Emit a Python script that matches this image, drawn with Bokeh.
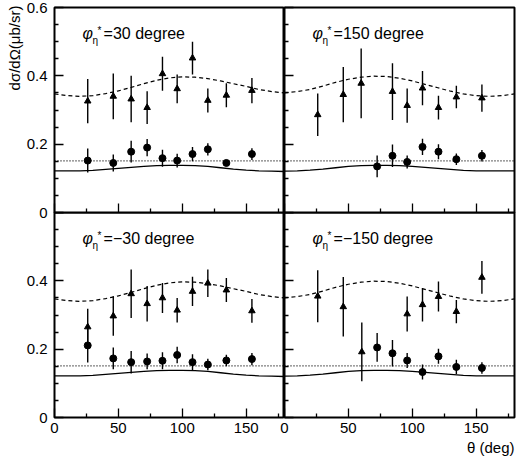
from bokeh.plotting import figure
from bokeh.layouts import row, column
from bokeh.models import FixedTicker, Label, Title, CustomLabelingPolicy
from bokeh.embed import file_html
from bokeh.resources import INLINE

# ---------------- data ----------------
theta_curve = [0, 10, 20, 30, 40, 50, 60, 70, 80, 90, 100, 110, 120, 130, 140, 150, 160, 170, 180]

# model curves for phi = +-30 degree
dash_30 = [0.347, 0.342, 0.340, 0.342, 0.348, 0.356, 0.366, 0.377, 0.387, 0.394, 0.397,
           0.396, 0.392, 0.385, 0.377, 0.369, 0.360, 0.354, 0.350]
solid_30 = [0.122, 0.122, 0.122, 0.123, 0.126, 0.129, 0.132, 0.135, 0.137, 0.138, 0.138,
            0.137, 0.135, 0.131, 0.127, 0.124, 0.122, 0.121, 0.120]
# model curves for phi = +-150 degree
dash_150 = [0.350, 0.354, 0.360, 0.370, 0.381, 0.390, 0.396, 0.399, 0.398, 0.393, 0.385,
            0.375, 0.365, 0.355, 0.347, 0.342, 0.340, 0.342, 0.347]
solid_150 = [0.121, 0.122, 0.124, 0.127, 0.131, 0.135, 0.137, 0.138, 0.138, 0.137, 0.135,
             0.132, 0.129, 0.126, 0.123, 0.122, 0.122, 0.122, 0.122]
dotted_x = [0, 180]
dotted_y = [0.151, 0.151]

# phi = 30 degree
p30_tri_x = [26, 46, 60, 72.5, 84.5, 96, 108, 120, 134.5, 154.5]
p30_tri_y = [0.326, 0.340, 0.332, 0.307, 0.406, 0.362, 0.452, 0.328, 0.343, 0.357]
p30_tri_e = [0.065, 0.067, 0.068, 0.048, 0.050, 0.042, 0.048, 0.035, 0.035, 0.037]
p30_cir_x = [26, 46, 60, 72.5, 84.5, 96, 108, 120, 134.5, 154.5]
p30_cir_y = [0.152, 0.145, 0.178, 0.190, 0.159, 0.152, 0.171, 0.185, 0.145, 0.171]
p30_cir_e = [0.035, 0.025, 0.032, 0.025, 0.025, 0.020, 0.021, 0.018, 0.008, 0.017]

# phi = 150 degree
p150_tri_x = [26, 46, 60, 84.5, 96, 108, 120.5, 134.5, 154.5]
p150_tri_y = [0.286, 0.345, 0.378, 0.354, 0.313, 0.364, 0.307, 0.338, 0.335]
p150_tri_e = [0.062, 0.081, 0.102, 0.083, 0.050, 0.050, 0.035, 0.033, 0.040]
p150_cir_x = [72.5, 84.5, 96, 108, 120.5, 134.5, 154.5]
p150_cir_y = [0.135, 0.166, 0.148, 0.192, 0.178, 0.156, 0.166]
p150_cir_e = [0.032, 0.033, 0.019, 0.024, 0.022, 0.017, 0.017]

# phi = -30 degree
m30_tri_x = [26, 46, 60, 72.5, 84.5, 96, 108, 120, 134.5, 154.5]
m30_tri_y = [0.265, 0.297, 0.362, 0.333, 0.350, 0.314, 0.369, 0.393, 0.373, 0.312]
m30_tri_e = [0.053, 0.058, 0.071, 0.052, 0.044, 0.036, 0.043, 0.040, 0.035, 0.035]
m30_cir_x = [26, 46, 60, 72.5, 84.5, 96, 108, 120, 134.5, 154.5]
m30_cir_y = [0.211, 0.173, 0.162, 0.164, 0.166, 0.183, 0.162, 0.155, 0.167, 0.171]
m30_cir_e = [0.050, 0.032, 0.033, 0.023, 0.025, 0.024, 0.023, 0.017, 0.017, 0.018]

# phi = -150 degree
m150_tri_x = [26, 46, 60.5, 96, 108, 120.5, 134.5, 154.5]
m150_tri_y = [0.355, 0.324, 0.192, 0.303, 0.330, 0.354, 0.310, 0.410]
m150_tri_e = [0.076, 0.087, 0.086, 0.051, 0.049, 0.044, 0.034, 0.048]
m150_cir_x = [72.5, 84.5, 96, 108, 120.5, 134.5, 154.5]
m150_cir_y = [0.205, 0.188, 0.167, 0.133, 0.179, 0.148, 0.145]
m150_cir_e = [0.042, 0.039, 0.022, 0.022, 0.022, 0.021, 0.017]

x_ticks = [0, 50, 100, 150]
x_minor = [25, 75, 125, 175]
y_ticks = [0, 0.2, 0.4, 0.6]
y_minor = [0.05, 0.1, 0.15, 0.25, 0.3, 0.35, 0.45, 0.5, 0.55]
y_labels = {0: "0", 0.2: "0.2", 0.4: "0.4", 0.6: "0.6"}

FONT = "Liberation Sans"
FRAME_W = 230
FRAME_H = 205

HIDE_ALL = "for (const i of indices) indices.unset(i)"


def panel(phi_label, tri, cir, dash, solid, left_labels, bottom_labels, top_row, left_col):
    mb_left = 54 if left_col else 8
    mb_right = 0 if left_col else 2
    mb_top = 7 if top_row else 0
    mb_bottom = 8 if top_row else 42
    p = figure(width=mb_left + FRAME_W + mb_right, height=mb_top + FRAME_H + mb_bottom,
               x_range=(0, 180), y_range=(0, 0.6),
               output_backend="svg", toolbar_location=None,
               min_border_left=mb_left, min_border_right=mb_right,
               min_border_top=mb_top, min_border_bottom=mb_bottom,
               background_fill_color=None, border_fill_color=None)
    p.grid.visible = False
    p.outline_line_color = "black"
    p.outline_line_width = 2

    for ax in (p.xaxis[0], p.yaxis[0]):
        ax.axis_line_color = None
        ax.major_tick_out = 0
        ax.minor_tick_out = 0
        ax.major_tick_line_color = "black"
        ax.minor_tick_line_color = "black"
        ax.major_tick_line_width = 1.3
        ax.minor_tick_line_width = 1.3
        ax.major_label_text_font = FONT
        ax.major_label_text_color = "black"
    p.xaxis.ticker = FixedTicker(ticks=x_ticks, minor_ticks=x_minor)
    p.yaxis.ticker = FixedTicker(ticks=y_ticks, minor_ticks=y_minor)
    p.xaxis.major_tick_in = 9
    p.xaxis.minor_tick_in = 4
    p.yaxis.major_tick_in = 9
    p.yaxis.minor_tick_in = 4

    if left_labels:
        overrides = dict(y_labels)
        if not top_row:
            overrides[0.6] = ""
        p.yaxis.major_label_overrides = overrides
        p.yaxis.major_label_text_font_size = "15px"
        p.yaxis.major_label_standoff = 7
    else:
        p.yaxis.major_label_text_font_size = "0px"
        p.yaxis.major_label_standoff = 0
        p.yaxis.major_label_policy = CustomLabelingPolicy(code=HIDE_ALL)
    if bottom_labels:
        p.xaxis.major_label_text_font_size = "15px"
        p.xaxis.major_label_standoff = 5
    else:
        p.xaxis.major_label_text_font_size = "0px"
        p.xaxis.major_label_standoff = 0
        p.xaxis.major_label_policy = CustomLabelingPolicy(code=HIDE_ALL)

    # model curves
    p.line(theta_curve, dash, line_color="black", line_width=1.2, line_dash="4 3")
    p.line(theta_curve, solid, line_color="black", line_width=1.3)
    p.line(dotted_x, dotted_y, line_color="black", line_width=1.2, line_dash="1 2")

    # data with error bars
    for (xs, ys, es), marker, size in ((tri, "triangle", 6.5), (cir, "circle", 7)):
        lo = [y - e for y, e in zip(ys, es)]
        hi = [y + e for y, e in zip(ys, es)]
        p.segment(x0=xs, y0=lo, x1=xs, y1=hi, line_color="black", line_width=1.4)
        p.scatter(xs, ys, marker=marker, size=size, fill_color="black", line_color="black")

    # panel label  phi_eta^* = ...
    p.add_layout(Label(x=22, y=0.5, text="φ", text_font=FONT, text_font_size="16px",
                       text_font_style="italic", text_color="black"))
    p.add_layout(Label(x=22, y=0.488, x_offset=10, text="η", text_font=FONT,
                       text_font_size="10px", text_color="black"))
    p.add_layout(Label(x=22, y=0.517, x_offset=15, text="*", text_font=FONT,
                       text_font_size="10px", text_color="black"))
    p.add_layout(Label(x=22, y=0.5, x_offset=21, text=phi_label, text_font=FONT,
                       text_font_size="16px", text_color="black"))
    return p


tl = panel("=30 degree", (p30_tri_x, p30_tri_y, p30_tri_e), (p30_cir_x, p30_cir_y, p30_cir_e),
           dash_30, solid_30, True, False, True, True)
tr = panel("=150 degree", (p150_tri_x, p150_tri_y, p150_tri_e), (p150_cir_x, p150_cir_y, p150_cir_e),
           dash_150, solid_150, False, False, True, False)
bl = panel("=−30 degree", (m30_tri_x, m30_tri_y, m30_tri_e), (m30_cir_x, m30_cir_y, m30_cir_e),
           dash_30, solid_30, True, True, False, True)
br = panel("=−150 degree", (m150_tri_x, m150_tri_y, m150_tri_e), (m150_cir_x, m150_cir_y, m150_cir_e),
           dash_150, solid_150, False, True, False, False)

# axis titles
tl.add_layout(Title(text="dσ/dΩ(μb/sr)", align="right", text_font=FONT,
                    text_font_size="15px", text_font_style="normal", text_color="black",
                    standoff=2, offset=-2), "left")
br.add_layout(Title(text="θ (deg)", align="right", text_font=FONT,
                    text_font_size="15px", text_font_style="normal", text_color="black",
                    standoff=2), "below")

tr.margin = (0, 0, 0, -8)
br.margin = (0, 0, 0, -8)
top = row(tl, tr)
bottom = row(bl, br)
bottom.margin = (-8, 0, 0, 0)
layout = column(top, bottom)

open("out.html", "w").write(file_html(layout, INLINE))
